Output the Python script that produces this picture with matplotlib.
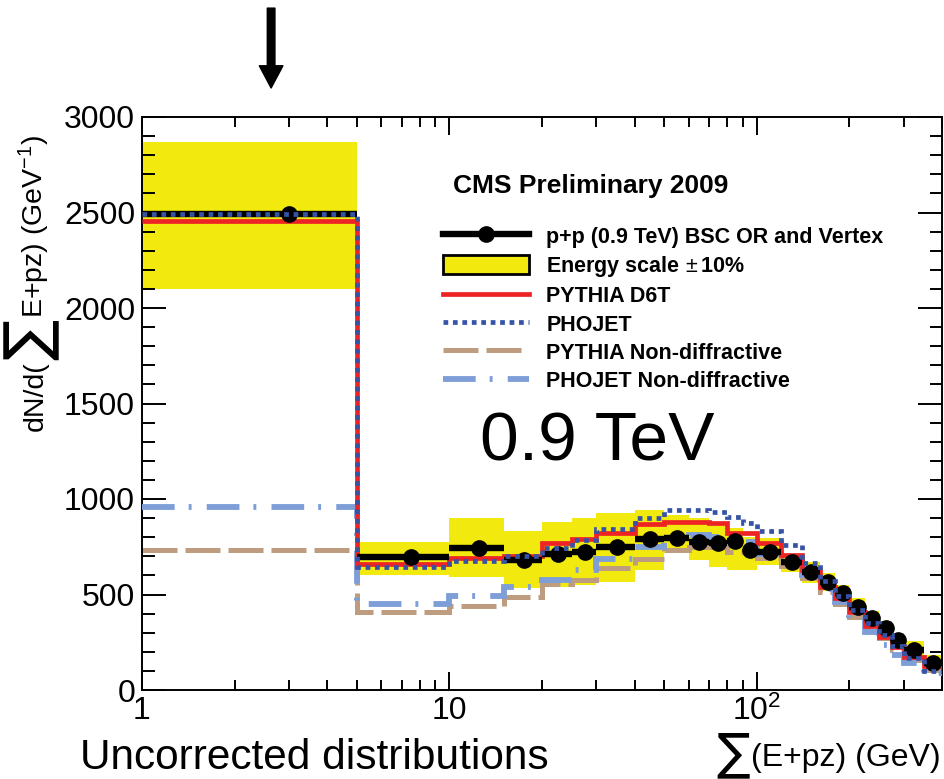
import numpy as np
import matplotlib
matplotlib.use('Agg')
import matplotlib.pyplot as plt
from matplotlib.lines import Line2D
from matplotlib.patches import Patch
from matplotlib.ticker import FixedLocator, FixedFormatter, MultipleLocator, NullFormatter

plt.rcParams['font.family'] = ['Liberation Sans', 'DejaVu Sans']
plt.rcParams['mathtext.fontset'] = 'custom'
plt.rcParams['mathtext.rm'] = 'Liberation Sans'
plt.rcParams['mathtext.it'] = 'Liberation Sans:italic'

# bin edges in sum(E+pz) (GeV)
edges = [1, 5, 10, 15, 20, 25, 30, 40, 50, 60, 70, 80, 90, 100, 120, 140,
         160, 180, 200, 225, 250, 275, 300, 350, 400]

# data p+p 0.9 TeV
data = [2490, 695, 745, 681, 712, 724, 750, 790, 795, 776, 768, 780, 733,
        724, 672, 619, 567, 506, 436, 375, 323, 262, 209, 140]
# energy scale +-10% band
band_lo = [2100, 602, 593, 532, 541, 548, 567, 628, 716, 680, 646, 628, 628,
           654, 619, 560, 520, 460, 400, 340, 290, 235, 165, 100]
band_hi = [2870, 775, 899, 834, 880, 900, 925, 940, 916, 900, 881, 850, 803,
           794, 698, 670, 610, 550, 480, 415, 360, 300, 255, 185]

pythia_d6t = [2455, 658, 690, 702, 768, 789, 820, 867, 878, 878, 873, 820, 820,
              768, 707, 628, 541, 482, 410, 335, 280, 225, 175, 125]
phojet = [2490, 645, 674, 699, 742, 785, 841, 900, 942, 942, 930, 904, 873,
          834, 759, 663, 570, 490, 420, 350, 290, 230, 170, 100]
pythia_nd = [731, 410, 440, 485, 555, 576, 637, 684, 733, 750, 747, 724, 720,
             690, 650, 586, 515, 450, 384, 331, 272, 209, 157, 105]
phojet_nd = [958, 450, 492, 538, 578, 630, 685, 750, 790, 810, 800, 785, 776,
             710, 672, 602, 530, 462, 367, 305, 236, 183, 140, 89]

edges = np.array(edges, dtype=float)
centers = 0.5 * (edges[:-1] + edges[1:])
halfw = 0.5 * (edges[1:] - edges[:-1])

YELLOW = '#f2ea0e'
RED = '#ee2424'
BLUE = '#3653a6'
BROWN = '#bd9c7f'
LBLUE = '#7e9ed8'

W, H = 945, 779
fig = plt.figure(figsize=(W / 100, H / 100), dpi=100)
ax = fig.add_axes([142 / W, (H - 690) / H, 800 / W, 573 / H])

ax.stairs(band_hi, edges, baseline=band_lo, fill=True, color=YELLOW, lw=0, zorder=1)
ax.stairs(pythia_nd, edges, baseline=None, color=BROWN, lw=3.6,
          linestyle=(0, (7, 1.6)), zorder=2)
ax.stairs(phojet_nd, edges, baseline=None, color=LBLUE, lw=4.2,
          linestyle=(0, (5.6, 2.4, 0.5, 2.6)), zorder=3)
ax.stairs(pythia_d6t, edges, baseline=None, color=RED, lw=3.4, zorder=4)
ax.errorbar(centers, data, xerr=halfw, fmt='o', color='black', ms=11,
            elinewidth=4.6, capsize=0, zorder=5)
ax.stairs(phojet, edges, baseline=None, color=BLUE, lw=3.4,
          linestyle=(0, (1, 1)), zorder=6)

ax.set_xscale('log')
ax.set_xlim(1, 400)
ax.set_ylim(0, 3000)

ax.xaxis.set_major_locator(FixedLocator([1, 10, 100]))
ax.xaxis.set_major_formatter(FixedFormatter(['1', '10', '10$^2$']))
minors = [m * d for d in (1, 10, 100) for m in range(2, 10) if m * d <= 400]
ax.xaxis.set_minor_locator(FixedLocator(minors))
ax.xaxis.set_minor_formatter(NullFormatter())
ax.yaxis.set_major_locator(MultipleLocator(500))
ax.yaxis.set_minor_locator(MultipleLocator(100))

ax.tick_params(axis='both', which='both', direction='in', top=True, right=True,
               width=1.4, labelsize=23, colors='black')
ax.tick_params(axis='x', which='major', length=13, pad=4)
ax.tick_params(axis='x', which='minor', length=7)
ax.tick_params(axis='y', which='major', length=17, pad=5)
ax.tick_params(axis='y', which='minor', length=9)
for s in ax.spines.values():
    s.set_linewidth(1.4)

fig.text(80 / W, 1 / H, 'Uncorrected distributions', fontsize=30.5,
         va='bottom')

ax.text(0.4225, 0.401, '0.9 TeV', fontsize=50, transform=ax.transAxes,
        va='baseline')
ax.text(0.389, 0.867, 'CMS Preliminary 2009', fontsize=19, weight='bold',
        transform=ax.transAxes, va='baseline')

handles = [
    Line2D([], [], color='black', lw=4.6, marker='o', ms=11),
    Patch(facecolor=YELLOW, edgecolor='black', lw=2),
    Line2D([], [], color=RED, lw=3.4),
    Line2D([], [], color=BLUE, lw=3.4, linestyle=(0, (1, 1))),
    Line2D([], [], color=BROWN, lw=3.6, linestyle=(0, (7, 1.6))),
    Line2D([], [], color=LBLUE, lw=4.2, linestyle=(0, (5.6, 2.4, 0.5, 2.6))),
]
labels = ['p+p (0.9 TeV) BSC OR and Vertex', 'Energy scale$\\,\\pm$10%',
          'PYTHIA D6T', 'PHOJET', 'PYTHIA Non-diffractive',
          'PHOJET Non-diffractive']
ax.legend(handles, labels, loc='upper left', bbox_to_anchor=(0.376, 0.810),
          frameon=False, borderpad=0, borderaxespad=0, handlelength=4.0,
          handleheight=1.0, handletextpad=0.8, labelspacing=0.29, numpoints=1,
          prop={'size': 15.5, 'weight': 'bold'})

# arrow above the first bin
ax.annotate('', xy=(2.63, 1.0506), xycoords=('data', 'axes fraction'),
            xytext=(2.63, 1.19), textcoords=('data', 'axes fraction'),
            arrowprops=dict(facecolor='black', edgecolor='black', width=5.5,
                            headwidth=17, headlength=16, shrink=0),
            annotation_clip=False)

# axis titles with a large summation sign, pieced together
fig.canvas.draw()
rend = fig.canvas.get_renderer()

# y title, reading upward
yt1 = fig.text(43 / W, (H - 431) / H, 'dN/d(', rotation=90, rotation_mode='anchor',
               ha='left', va='baseline', fontsize=20.5)
bb = yt1.get_window_extent(rend)
ys = fig.text(31 / W, (bb.y1 + 1) / H, '\u2211', rotation=90, rotation_mode='anchor',
              ha='left', va='center', family='DejaVu Sans', fontsize=44)
bb = ys.get_window_extent(rend)
fig.text(43 / W, (bb.y1 + 1) / H, 'E+pz) (GeV$^{-1}$)', rotation=90,
         rotation_mode='anchor', ha='left', va='baseline', fontsize=20.5)

# x title at bottom right
xt = fig.text(941 / W, (H - 766) / H, '(E+pz) (GeV)', ha='right', va='baseline',
              fontsize=23)
bb = xt.get_window_extent(rend)
fig.text((bb.x0 - 1) / W, 1 / H, '\u2211', ha='right', va='bottom',
         family='DejaVu Sans', fontsize=36)

fig.savefig('out.png', dpi=100)
